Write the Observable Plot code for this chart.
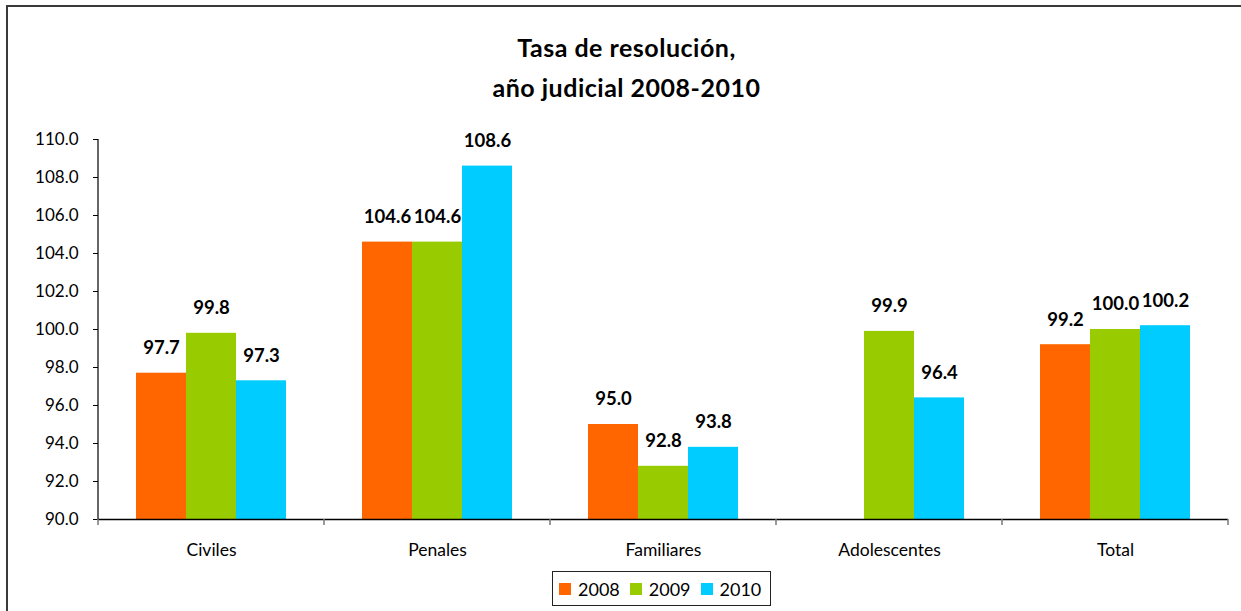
<!DOCTYPE html>
<html>
<head>
<meta charset="utf-8">
<script src="https://cdn.jsdelivr.net/npm/d3@7"></script>
<script src="https://cdn.jsdelivr.net/npm/@observablehq/plot@0.6"></script>
<style>
  body { margin: 0; background: #fff; }
  #wrap { position: relative; width: 1241px; height: 611px; overflow: hidden; background: #fff; font-family: Lato, "DejaVu Sans", sans-serif; }
  #border { position: absolute; left: 6px; top: 5px; width: 1400px; height: 800px; border-left: 2px solid #3a3a3a; border-top: 2px solid #3a3a3a; }
  #title { position: absolute; left: 6px; top: 27px; width: 1241px; text-align: center; font-weight: bold; font-size: 25px; letter-spacing: 0.5px; line-height: 40px; color: #000; }
  #chart { position: absolute; left: 0; top: 0; }
  #legend { position: absolute; left: 552px; top: 571px; width: 219px; height: 35px; border: 1px solid #222; box-sizing: border-box; display: flex; align-items: center; padding-left: 6px; font-size: 18px; color: #000; }
  .item { display: flex; align-items: center; margin-right: 10px; }
  .sw { width: 12px; height: 12px; margin-right: 7px; }
</style>
</head>
<body>
<div id="wrap">
  <div id="border"></div>
  <div id="title">Tasa de resolución,<br>año judicial 2008-2010</div>
  <div id="chart"></div>
  <div id="legend"></div>
</div>
<script>
const categories = ["Civiles", "Penales", "Familiares", "Adolescentes", "Total"];
const years = ["2008", "2009", "2010"];
const values2008 = [97.7, 104.6, 95.0, null, 99.2];
const values2009 = [99.8, 104.6, 92.8, 99.9, 100.0];
const values2010 = [97.3, 108.6, 93.8, 96.4, 100.2];
const yTicks = [90, 92, 94, 96, 98, 100, 102, 104, 106, 108, 110];
const colors = ["#FF6600", "#99CC00", "#00CCFF"];

const series = [values2008, values2009, values2010];
const data = [];
categories.forEach((c, i) => {
  years.forEach((y, j) => {
    const v = series[j][i];
    if (v != null) data.push({category: c, year: y, value: v});
  });
});

const baseline = yTicks[0];

const plot = Plot.plot({
  width: 1241,
  height: 611,
  marginTop: 139,
  marginBottom: 92,
  marginLeft: 97,
  marginRight: 13,
  style: {fontFamily: "Lato, 'DejaVu Sans', sans-serif", fontSize: "17px", color: "#000", background: "transparent"},
  fx: {domain: categories, padding: 0, label: null, axis: "bottom", tickSize: 0, tickPadding: 24},
  x: {domain: years, axis: null, paddingInner: 0, paddingOuter: 0.716},
  y: {domain: [yTicks[0], yTicks[yTicks.length - 1]], ticks: yTicks, tickFormat: d => d.toFixed(1), label: null, tickSize: 5, tickPadding: 15},
  color: {domain: years, range: colors},
  marks: [
    Plot.barY(data, {fx: "category", x: "year", y1: baseline, y2: "value", fill: "year", inset: 0}),
    Plot.text(data, {fx: "category", x: "year", y: "value", text: d => d.value.toFixed(1), dy: -25, fontWeight: "bold", fontSize: 18.5, fill: "#000"}),
    Plot.ruleY([baseline], {stroke: "#000", strokeWidth: 1.5})
  ]
});

document.getElementById("chart").appendChild(plot);

// category labels slightly larger
d3.select(plot).selectAll("[aria-label='fx-axis tick label'] text, g[aria-label='fx-axis tick label'] text").style("font-size", "17.5px");

// axis line and category boundary ticks from the library's scales
const svg = d3.select(plot);
const ys = plot.scale("y");
const fxs = plot.scale("fx");
const y0 = ys.apply(baseline), y1 = ys.apply(yTicks[yTicks.length - 1]);
let bounds = [];
try {
  categories.forEach(c => bounds.push(fxs.apply(c)));
  bounds.push(fxs.apply(categories[categories.length - 1]) + fxs.bandwidth);
} catch (e) { bounds = []; }
const x0 = bounds.length ? bounds[0] : 97;
svg.append("line").attr("x1", x0).attr("x2", x0).attr("y1", y1).attr("y2", y0).attr("stroke", "#000").attr("stroke-width", 1.2);
bounds.forEach(b => {
  svg.append("line").attr("x1", b).attr("x2", b).attr("y1", y0).attr("y2", y0 + 6).attr("stroke", "#777").attr("stroke-width", 1.5);
});

// legend
const leg = d3.select("#legend");
years.forEach((y, i) => {
  const it = leg.append("div").attr("class", "item");
  it.append("div").attr("class", "sw").style("background", colors[i]);
  it.append("span").text(y);
});
</script>
</body>
</html>
